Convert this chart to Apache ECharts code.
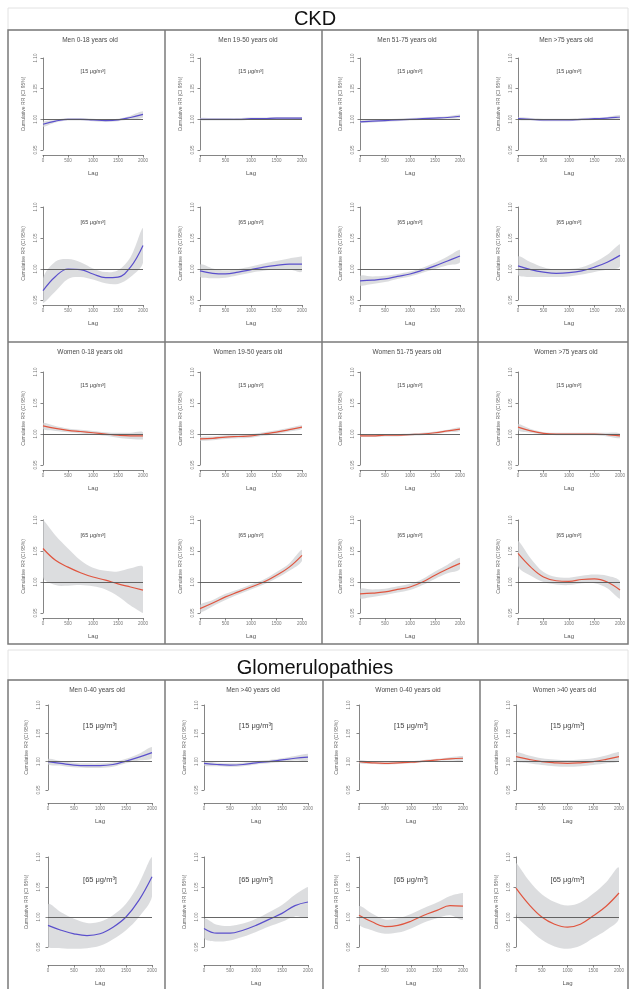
<!DOCTYPE html>
<html><head><meta charset="utf-8">
<script src="https://cdn.jsdelivr.net/npm/echarts@6/dist/echarts.min.js"></script>
<style>html,body{margin:0;padding:0;background:#fff}#c{width:630px;height:989px}</style>
</head><body><div id="c"></div>
<script>
// ---- data ----
const lags = [0, 250, 500, 750, 1000, 1250, 1500, 1750, 2000];
const xTicks = [0, 500, 1000, 1500, 2000];
const yTicks = [0.95, 1.00, 1.05, 1.10];

// CKD men
const ckdMen0_18_15 = [0.992, 0.997, 1.000, 1.000, 0.999, 0.998, 0.999, 1.003, 1.008];
const ckdMen0_18_15ci = [0.004, 0.002, 0.002, 0.002, 0.002, 0.002, 0.002, 0.003, 0.005];
const ckdMen0_18_65 = [0.965, 0.988, 1.000, 0.999, 0.992, 0.986, 0.987, 1.003, 1.038];
const ckdMen0_18_65ci = [0.020, 0.024, 0.016, 0.012, 0.009, 0.009, 0.011, 0.016, 0.028];
const ckdMen19_50_15 = [1.000, 1.000, 1.000, 1.000, 1.001, 1.001, 1.002, 1.002, 1.002];
const ckdMen19_50_15ci = [0.002, 0.002, 0.002, 0.002, 0.002, 0.002, 0.002, 0.002, 0.002];
const ckdMen19_50_65 = [0.997, 0.993, 0.992, 0.995, 0.999, 1.003, 1.006, 1.008, 1.008];
const ckdMen19_50_65ci = [0.010, 0.008, 0.006, 0.005, 0.005, 0.006, 0.007, 0.009, 0.012];
const ckdMen51_75_15 = [0.996, 0.997, 0.998, 0.999, 1.000, 1.001, 1.002, 1.003, 1.005];
const ckdMen51_75_15ci = [0.002, 0.002, 0.002, 0.002, 0.002, 0.002, 0.002, 0.002, 0.003];
const ckdMen51_75_65 = [0.981, 0.982, 0.984, 0.988, 0.992, 0.998, 1.005, 1.013, 1.021];
const ckdMen51_75_65ci = [0.008, 0.006, 0.005, 0.004, 0.004, 0.004, 0.005, 0.007, 0.010];
const ckdMen75_15 = [1.001, 1.000, 0.999, 0.999, 0.999, 1.000, 1.001, 1.002, 1.004];
const ckdMen75_15ci = [0.002, 0.002, 0.002, 0.002, 0.002, 0.002, 0.002, 0.002, 0.003];
const ckdMen75_65 = [1.005, 0.999, 0.995, 0.993, 0.994, 0.997, 1.003, 1.011, 1.022];
const ckdMen75_65ci = [0.015, 0.012, 0.008, 0.006, 0.006, 0.006, 0.008, 0.012, 0.018];
// CKD women
const ckdWom0_18_15 = [1.013, 1.009, 1.006, 1.004, 1.002, 1.000, 0.998, 0.997, 0.997];
const ckdWom0_18_15ci = [0.005, 0.004, 0.003, 0.003, 0.003, 0.003, 0.004, 0.005, 0.006];
const ckdWom0_18_65 = [1.054, 1.035, 1.024, 1.015, 1.008, 1.003, 0.997, 0.992, 0.987];
const ckdWom0_18_65ci = [0.046, 0.040, 0.030, 0.020, 0.015, 0.015, 0.020, 0.030, 0.037];
const ckdWom19_50_15 = [0.992, 0.993, 0.995, 0.996, 0.997, 1.000, 1.003, 1.007, 1.011];
const ckdWom19_50_15ci = [0.003, 0.003, 0.003, 0.003, 0.003, 0.003, 0.003, 0.003, 0.003];
const ckdWom19_50_65 = [0.957, 0.966, 0.976, 0.984, 0.992, 1.000, 1.011, 1.024, 1.043];
const ckdWom19_50_65ci = [0.006, 0.005, 0.005, 0.004, 0.004, 0.004, 0.005, 0.006, 0.009];
const ckdWom51_75_15 = [0.997, 0.997, 0.998, 0.998, 0.999, 1.000, 1.002, 1.005, 1.008];
const ckdWom51_75_15ci = [0.002, 0.002, 0.002, 0.002, 0.002, 0.002, 0.002, 0.002, 0.003];
const ckdWom51_75_65 = [0.981, 0.982, 0.984, 0.988, 0.992, 1.000, 1.011, 1.021, 1.030];
const ckdWom51_75_65ci = [0.008, 0.006, 0.005, 0.005, 0.005, 0.005, 0.006, 0.007, 0.009];
const ckdWom75_15 = [1.011, 1.005, 1.001, 1.000, 1.000, 1.000, 1.000, 0.999, 0.997];
const ckdWom75_15ci = [0.005, 0.003, 0.002, 0.002, 0.002, 0.002, 0.002, 0.003, 0.004];
const ckdWom75_65 = [1.046, 1.024, 1.008, 1.002, 1.001, 1.004, 1.005, 1.000, 0.987];
const ckdWom75_65ci = [0.020, 0.014, 0.008, 0.006, 0.006, 0.006, 0.007, 0.010, 0.014];
// Glomerulopathies
const glMen0_40_15 = [1.000, 0.997, 0.994, 0.993, 0.993, 0.995, 1.001, 1.008, 1.016];
const glMen0_40_15ci = [0.005, 0.004, 0.004, 0.004, 0.004, 0.004, 0.004, 0.006, 0.010];
const glMen0_40_65 = [0.986, 0.978, 0.972, 0.969, 0.972, 0.983, 1.000, 1.028, 1.067];
const glMen0_40_65ci = [0.035, 0.030, 0.025, 0.021, 0.020, 0.020, 0.022, 0.028, 0.033];
const glMen40_15 = [0.997, 0.995, 0.994, 0.995, 0.998, 1.000, 1.003, 1.006, 1.008];
const glMen40_15ci = [0.004, 0.003, 0.003, 0.003, 0.003, 0.003, 0.003, 0.004, 0.006];
const glMen40_65 = [0.981, 0.973, 0.973, 0.978, 0.986, 0.996, 1.006, 1.019, 1.025];
const glMen40_65ci = [0.016, 0.014, 0.012, 0.011, 0.011, 0.012, 0.014, 0.018, 0.025];
const glWom0_40_15 = [1.000, 0.998, 0.997, 0.998, 0.999, 1.001, 1.003, 1.005, 1.006];
const glWom0_40_15ci = [0.003, 0.002, 0.002, 0.002, 0.002, 0.002, 0.002, 0.003, 0.004];
const glWom0_40_65 = [1.003, 0.992, 0.984, 0.986, 0.993, 1.003, 1.011, 1.019, 1.018];
const glWom0_40_65ci = [0.015, 0.014, 0.012, 0.012, 0.012, 0.012, 0.013, 0.016, 0.022];
const glWom40_15 = [1.009, 1.004, 1.000, 0.998, 0.997, 0.998, 1.000, 1.004, 1.009];
const glWom40_15ci = [0.008, 0.007, 0.006, 0.006, 0.006, 0.006, 0.006, 0.007, 0.008];
const glWom40_65 = [1.048, 1.021, 1.000, 0.988, 0.983, 0.988, 1.002, 1.018, 1.040];
const glWom40_65ci = [0.042, 0.040, 0.038, 0.037, 0.036, 0.036, 0.037, 0.040, 0.042];

const panelTitles = [
  'Men 0-18 years old', 'Men 19-50 years old', 'Men 51-75 years old', 'Men >75 years old',
  'Women 0-18 years old', 'Women 19-50 years old', 'Women 51-75 years old', 'Women >75 years old',
  'Men 0-40 years old', 'Men >40 years old', 'Women 0-40 years old', 'Women >40 years old'
];
const doseLabels = ['[15 μg/m³]', '[65 μg/m³]'];

// ---- layout ----
const MEN = '#5a4fcc', WOMEN = '#e0553f';
const panels = [
  {t:0, block:'ckd', row:0, col:0, c:MEN, d:[[ckdMen0_18_15, ckdMen0_18_15ci],[ckdMen0_18_65, ckdMen0_18_65ci]]},
  {t:1, block:'ckd', row:0, col:1, c:MEN, d:[[ckdMen19_50_15, ckdMen19_50_15ci],[ckdMen19_50_65, ckdMen19_50_65ci]]},
  {t:2, block:'ckd', row:0, col:2, c:MEN, d:[[ckdMen51_75_15, ckdMen51_75_15ci],[ckdMen51_75_65, ckdMen51_75_65ci]]},
  {t:3, block:'ckd', row:0, col:3, c:MEN, d:[[ckdMen75_15, ckdMen75_15ci],[ckdMen75_65, ckdMen75_65ci]]},
  {t:4, block:'ckd', row:1, col:0, c:WOMEN, d:[[ckdWom0_18_15, ckdWom0_18_15ci],[ckdWom0_18_65, ckdWom0_18_65ci]]},
  {t:5, block:'ckd', row:1, col:1, c:WOMEN, d:[[ckdWom19_50_15, ckdWom19_50_15ci],[ckdWom19_50_65, ckdWom19_50_65ci]]},
  {t:6, block:'ckd', row:1, col:2, c:WOMEN, d:[[ckdWom51_75_15, ckdWom51_75_15ci],[ckdWom51_75_65, ckdWom51_75_65ci]]},
  {t:7, block:'ckd', row:1, col:3, c:WOMEN, d:[[ckdWom75_15, ckdWom75_15ci],[ckdWom75_65, ckdWom75_65ci]]},
  {t:8, block:'gl', row:0, col:0, c:MEN, d:[[glMen0_40_15, glMen0_40_15ci],[glMen0_40_65, glMen0_40_65ci]]},
  {t:9, block:'gl', row:0, col:1, c:MEN, d:[[glMen40_15, glMen40_15ci],[glMen40_65, glMen40_65ci]]},
  {t:10, block:'gl', row:0, col:2, c:WOMEN, d:[[glWom0_40_15, glWom0_40_15ci],[glWom0_40_65, glWom0_40_65ci]]},
  {t:11, block:'gl', row:0, col:3, c:WOMEN, d:[[glWom40_15, glWom40_15ci],[glWom40_65, glWom40_65ci]]}
];
const L = {
  ckd: {cols:[[43,100,3],[200,102,3],[360,100,3],[518,102,3]],
        rows:[{title:40, sub:[[58,92,5],[207,93,5]]},{title:352, sub:[[372,93,5],[520,93,5]]}],
        annOff:[13,15], annSize:5.5, labSize:4.5, xGap:15},
  gl:  {cols:[[48,104,5],[204,104,3],[359,104,6],[516,103,3]],
        rows:[{title:690, sub:[[705,85,13],[857,90,18]]}],
        annOff:[21,23], annSize:7.5, labSize:4.5, xGap:15}
};

const grid = [], xAxis = [], yAxis = [], series = [], graphic = [];
const fontTxt = '"Liberation Sans", Arial, sans-serif';
let gi = 0;
panels.forEach(p => {
  const B = L[p.block];
  const [cx, cw, yoff] = B.cols[p.col];
  const R = B.rows[p.row];
  graphic.push({type:'text', silent:true, z:10, style:{text:panelTitles[p.t], x:cx+cw/2 - 3, y:R.title, textAlign:'center', textVerticalAlign:'middle', fill:'#4a4a4a', font:'6.5px ' + fontTxt}});
  R.sub.forEach((s, k) => {
    const [top, h, xoff] = s;
    grid.push({left:cx, top:top, width:cw, height:h});
    xAxis.push({gridIndex:gi, type:'value', min:0, max:2000, interval:500, offset:xoff,
      axisLine:{lineStyle:{color:'#666', width:0.8}}, axisTick:{length:2.5, lineStyle:{color:'#666', width:0.8}},
      axisLabel:{fontSize:B.labSize, color:'#777', margin:3, fontFamily:fontTxt, formatter:v => String(v)},
      splitLine:{show:false}, name:'Lag', nameLocation:'middle', nameGap:B.xGap,
      nameTextStyle:{fontSize:6, color:'#555', fontFamily:fontTxt}});
    yAxis.push({gridIndex:gi, type:'value', min:0.95, max:1.10, interval:0.05, offset:yoff,
      axisLine:{show:true, lineStyle:{color:'#666', width:0.8}}, axisTick:{show:true, length:2.5, lineStyle:{color:'#666', width:0.8}},
      axisLabel:{fontSize:B.labSize, color:'#777', margin:2, rotate:90, fontFamily:fontTxt, formatter:v => v.toFixed(2)},
      splitLine:{show:false}, name:'Cumulative RR (CI 95%)', nameLocation:'middle', nameGap:14, nameRotate:90,
      nameTextStyle:{fontSize:5, color:'#666', fontFamily:fontTxt}});
    const [fit, ci] = p.d[k];
    const bandUp = lags.map((x, i) => [x, fit[i] + ci[i]]);
    const bandLo = lags.map((x, i) => [x, fit[i] - ci[i]]);
    const line = lags.map((x, i) => [x, fit[i]]);
    series.push({type:'custom', xAxisIndex:gi, yAxisIndex:gi, data:[[0, 1]], silent:true, clip:false, z:1,
      renderItem: (params, api) => {
        const pts = bandUp.map(v => api.coord(v)).concat(bandLo.slice().reverse().map(v => api.coord(v)));
        let x0 = Infinity, x1 = -Infinity, y0 = Infinity, y1 = -Infinity;
        pts.forEach(q => { x0 = Math.min(x0, q[0]); x1 = Math.max(x1, q[0]); y0 = Math.min(y0, q[1]); y1 = Math.max(y1, q[1]); });
        return {type:'polygon', shape:{points:pts, smooth:0.35, smoothConstraint:[[x0, y0], [x1, y1]]},
          style:{fill:'rgba(205,207,209,0.7)', stroke:'none'}};
      }});
    series.push({type:'line', xAxisIndex:gi, yAxisIndex:gi, data:line, smooth:0.4, symbol:'none', silent:true,
      lineStyle:{color:p.c, width:1.2}, z:3,
      markLine:{silent:true, symbol:'none', label:{show:false}, lineStyle:{color:'#555', width:0.9, type:'solid'}, data:[{yAxis:1}]}});
    graphic.push({type:'text', silent:true, z:10, style:{text:doseLabels[k], x:cx+cw/2, y:top + B.annOff[k], textAlign:'center', textVerticalAlign:'middle', fill:'#444', font:B.annSize + 'px ' + fontTxt}});
    gi++;
  });
});

// frames and headings
const frame = '#7a7a7a';
graphic.push({type:'rect', silent:true, shape:{x:8, y:8, width:620, height:22}, style:{fill:'none', stroke:'#e2e2e2', lineWidth:1}});
graphic.push({type:'rect', silent:true, shape:{x:8, y:650, width:620, height:30}, style:{fill:'none', stroke:'#e2e2e2', lineWidth:1}});
graphic.push({type:'text', silent:true, style:{text:'CKD', x:315, y:19, textAlign:'center', textVerticalAlign:'middle', fill:'#111', font:'20px ' + fontTxt}});
graphic.push({type:'text', silent:true, style:{text:'Glomerulopathies', x:315, y:668, textAlign:'center', textVerticalAlign:'middle', fill:'#111', font:'20px ' + fontTxt}});
graphic.push({type:'rect', silent:true, shape:{x:8, y:30, width:620, height:614}, style:{fill:'none', stroke:frame, lineWidth:1.5}});
[165, 322, 478].forEach(x => graphic.push({type:'line', silent:true, shape:{x1:x, y1:30, x2:x, y2:644}, style:{stroke:frame, lineWidth:1.5}}));
graphic.push({type:'line', silent:true, shape:{x1:8, y1:342, x2:628, y2:342}, style:{stroke:frame, lineWidth:1.5}});
graphic.push({type:'rect', silent:true, shape:{x:8, y:680, width:620, height:312}, style:{fill:'none', stroke:frame, lineWidth:1.5}});
[165, 323, 480].forEach(x => graphic.push({type:'line', silent:true, shape:{x1:x, y1:680, x2:x, y2:989}, style:{stroke:frame, lineWidth:1.5}}));

const chart = echarts.init(document.getElementById('c'), null, {renderer:'canvas'});
chart.setOption({animation:false, backgroundColor:'#fff', grid, xAxis, yAxis, series, graphic});
</script></body></html>
